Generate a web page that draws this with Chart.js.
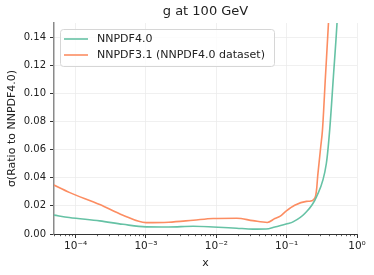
<!DOCTYPE html>
<html>
<head>
<meta charset="utf-8">
<script src="https://cdn.jsdelivr.net/npm/chart.js@4"></script>
<style>
  html, body { margin: 0; padding: 0; background: #fff; }
  #wrap { width: 374px; height: 275px; }
</style>
</head>
<body>
<div id="wrap"><canvas id="chart" width="374" height="275"></canvas></div>
<script>

// values
var x40     = [4.9e-5, 8.1e-5, 2.2e-4, 4.7e-4, 1e-3, 2.1e-3, 4.7e-3, 9e-3, 1.95e-2, 3.3e-2, 5.1e-2, 6.8e-2, 0.105, 0.123, 0.181, 0.265, 0.367, 0.409, 0.462, 0.52, 0.6];
var sigma40 = [0.0134, 0.0117, 0.0093, 0.0069, 0.0051, 0.0050, 0.0055, 0.0050, 0.0041, 0.0035, 0.0036, 0.0050, 0.0074, 0.0086, 0.0146, 0.0264, 0.0503, 0.074, 0.112, 0.15, 0.21];

var x31     = [4.9e-5, 8.1e-5, 2.2e-4, 4.7e-4, 1e-3, 2.1e-3, 4.7e-3, 9e-3, 1.95e-2, 3.3e-2, 5.3e-2, 6.8e-2, 0.08, 0.099, 0.13, 0.191, 0.213, 0.227, 0.242, 0.259, 0.268, 0.276, 0.288, 0.305, 0.323, 0.356, 0.393, 0.45];
var sigma31 = [0.0348, 0.0296, 0.0210, 0.0134, 0.0081, 0.0084, 0.0098, 0.0110, 0.0112, 0.0095, 0.0082, 0.0110, 0.0125, 0.0165, 0.0205, 0.0232, 0.0233, 0.0236, 0.0245, 0.0275, 0.033, 0.041, 0.050, 0.062, 0.074, 0.112, 0.15, 0.21];

var labels   = ["NNPDF4.0", "NNPDF3.1 (NNPDF4.0 dataset)"];
var colors   = ["#66c2a5", "#fc8d62"];
var xMajor   = [1e-4, 1e-3, 1e-2, 1e-1, 1];
var xLabels  = ["10\u207B\u2074", "10\u207B\u00B3", "10\u207B\u00B2", "10\u207B\u00B9", "10\u2070"];
var yTicks   = [0, 0.02, 0.04, 0.06, 0.08, 0.10, 0.12, 0.14];
var xMin = 4.92e-5, xMax = 1.0;

var FONT = "'DejaVu Sans', sans-serif";

function pairs(xs, ys){
	return xs.map(function(x, i){ return {x: x, y: ys[i]}; });
}

function minorTicks(){
	var out = [];
	for (var e = -5; e < 0; e++){
		for (var m = 2; m <= 9; m++){
			var v = m * Math.pow(10, e);
			if (v >= xMin && v <= xMax) out.push(v);
		}
	}
	return out;
}
var xMinor = minorTicks();

var decor = {
	id: 'decor',
	afterDraw: function(chart){
		var ctx = chart.ctx, area = chart.chartArea, xs = chart.scales.x;
		ctx.save();

		// title
		ctx.fillStyle = '#222';
		ctx.font = "13px " + FONT;
		ctx.textAlign = 'center';
		ctx.textBaseline = 'middle';
		ctx.fillText("g at 100 GeV", (area.left + area.right) / 2, 12);

		// minor x ticks
		ctx.strokeStyle = '#333';
		ctx.lineWidth = 0.8;
		xMinor.forEach(function(v){
			var px = Math.round(xs.getPixelForValue(v)) + 0.5;
			ctx.beginPath();
			ctx.moveTo(px, area.bottom);
			ctx.lineTo(px, area.bottom + 2.2);
			ctx.stroke();
		});

		// legend box
		var lx = 60, ly = 29, lw = 214, lh = 37;
		ctx.beginPath();
		ctx.roundRect(lx + 0.5, ly + 0.5, lw, lh, 3);
		ctx.fillStyle = 'rgba(255,255,255,0.8)';
		ctx.fill();
		ctx.strokeStyle = '#d6d6d6';
		ctx.lineWidth = 1;
		ctx.stroke();

		ctx.font = "11px " + FONT;
		ctx.textAlign = 'left';
		ctx.textBaseline = 'middle';
		chart.data.datasets.forEach(function(ds, i){
			var y = ly + 10 + i * 16;
			ctx.strokeStyle = ds.borderColor;
			ctx.lineWidth = 1.6;
			ctx.beginPath();
			ctx.moveTo(64, y);
			ctx.lineTo(88, y);
			ctx.stroke();
			ctx.fillStyle = '#222';
			ctx.fillText(ds.label, 97, y + 0.5);
		});
		ctx.restore();
	}
};

var ctx = document.getElementById("chart");
var chart = new Chart(ctx, {
	type: 'line',
	data: {
		datasets: [
		{
			label: labels[0],
			data: pairs(x40, sigma40),
			borderColor: colors[0],
			backgroundColor: colors[0],
			borderWidth: 1.6,
			pointRadius: 0,
			fill: false,
			cubicInterpolationMode: 'monotone'
		},
		{
			label: labels[1],
			data: pairs(x31, sigma31),
			borderColor: colors[1],
			backgroundColor: colors[1],
			borderWidth: 1.6,
			pointRadius: 0,
			fill: false,
			cubicInterpolationMode: 'monotone'
		}
		]
	},
	options: {
		responsive: false,
		animation: false,
		devicePixelRatio: 1,
		layout: { padding: { left: 0, right: 17, top: 23, bottom: 0 } },
		plugins: {
			legend: { display: false },
			title: { display: false },
			tooltip: { enabled: false }
		},
		scales: {
			x: {
				type: 'logarithmic',
				min: xMin,
				max: xMax,
				afterBuildTicks: function(scale){
					scale.ticks = xMajor.map(function(v){ return {value: v}; });
				},
				afterFit: function(scale){ scale.height = 41; },
				ticks: {
					autoSkip: false,
					maxRotation: 0,
					padding: 2,
					color: '#222',
					font: { family: FONT, size: 10.5 },
					callback: function(v){
						var i = xMajor.findIndex(function(m){ return Math.abs(v - m) / m < 1e-6; });
						return i >= 0 ? xLabels[i] : '';
					}
				},
				grid: {
					color: '#ececec',
					lineWidth: 0.8,
					tickLength: 4,
					tickColor: '#333',
					tickWidth: 1
				},
				border: { color: '#333', width: 1 },
				title: {
					display: true,
					text: 'x',
					color: '#222',
					font: { family: FONT, size: 11 },
					padding: { top: 2, bottom: 5 }
				}
			},
			y: {
				min: 0,
				max: 0.15,
				afterBuildTicks: function(scale){
					scale.ticks = yTicks.map(function(v){ return {value: v}; });
				},
				afterFit: function(scale){ scale.width = 54; },
				ticks: {
					padding: 4,
					color: '#222',
					font: { family: FONT, size: 10 },
					callback: function(v){ return Number(v).toFixed(2); }
				},
				grid: {
					color: '#ececec',
					lineWidth: 0.8,
					tickLength: 4,
					tickColor: '#333',
					tickWidth: 1
				},
				border: { color: '#8a8a8a', width: 1.5 },
				title: {
					display: true,
					text: '\u03C3(Ratio to NNPDF4.0)',
					color: '#222',
					font: { family: FONT, size: 11 },
					padding: { top: 6, bottom: 2 }
				}
			}
		}
	},
	plugins: [decor]
});

</script>
</body>
</html>
